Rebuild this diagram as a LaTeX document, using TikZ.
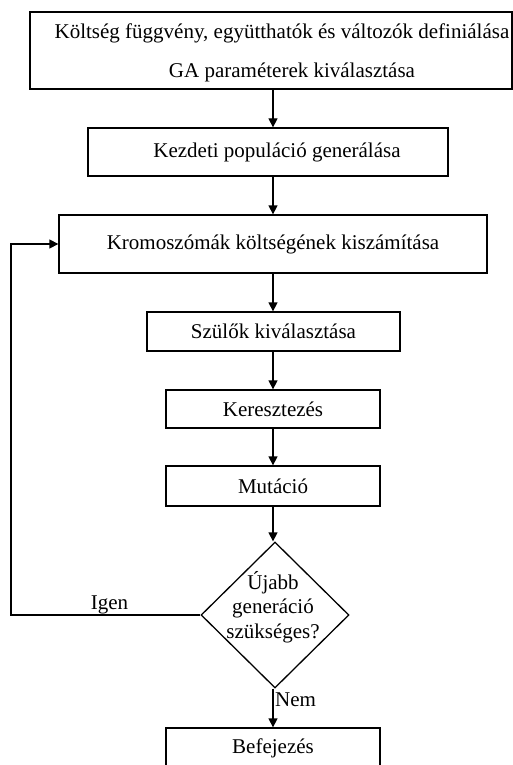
\documentclass[tikz,border=0pt]{standalone}
\usepackage{fontspec}
\setmainfont{Liberation Serif}
\usetikzlibrary{shapes.geometric,arrows.meta}
\begin{document}
\begin{tikzpicture}[x=1pt,y=-1pt,
  every node/.style={font=\fontsize{21}{24.5}\selectfont},
  box/.style={draw,line width=1.3pt,rectangle,inner sep=0pt},
  arr/.style={line width=1.3pt,-{Triangle[length=9pt,width=9pt]}},
  txt/.style={inner sep=0pt}]
\useasboundingbox (0,0) rectangle (513,765);
\clip (0,0) rectangle (513,765);
% boxes
\node[box,minimum width=482pt,minimum height=77pt] (b1) at (271,50.5) {};
\node[txt] (t1a) at (282,33) {Költség függvény, együtthatók és változók definiálása};
\node[txt] (t1b) at (292,72) {GA paraméterek kiválasztása};
\node[box,minimum width=360pt,minimum height=48pt] (b2) at (268,152) {};
\node[txt] (t2) at (277,152) {Kezdeti populáció generálása};
\node[box,minimum width=428pt,minimum height=58pt] (b3) at (273,244) {Kromoszómák költségének kiszámítása};
\node[box,minimum width=253pt,minimum height=39pt] (b4) at (273.5,331.5) {Szülők kiválasztása};
\node[box,minimum width=214pt,minimum height=38pt] (b5) at (273,409) {Keresztezés};
\node[box,minimum width=214pt,minimum height=40pt] (b6) at (273,486) {Mutáció};
\node[draw,line width=1.3pt,diamond,inner sep=0pt,minimum width=148pt,minimum height=146pt] (d) at (275,615) {};
\node[txt,align=center] (dt) at (273,607) {Újabb\\generáció\\szükséges?};
\node[box,minimum width=214pt,minimum height=40pt] (b7) at (273,748) {Befejezés};
% connectors
\draw[arr] (b1.south -| b3.center) -- (b2.north -| b3.center);
\draw[arr] (b2.south -| b3.center) -- (b3.north);
\draw[arr] (b3.south) -- (b4.north -| b3.center);
\draw[arr] (b4.south -| b3.center) -- (b5.north);
\draw[arr] (b5.south) -- (b6.north);
\draw[arr] (b6.south) -- (d.north -| b6.south);
\coordinate (lp) at (11,244);
\draw[arr] (d.west) -| (lp) -- (b3.west);
\draw[arr] (d.south -| b7.north) -- (b7.north);
\node[txt,anchor=base] (igen) at (109.5,609) {Igen};
\node[txt,anchor=base] (nem) at (295.5,706) {Nem};
\end{tikzpicture}
\end{document}
